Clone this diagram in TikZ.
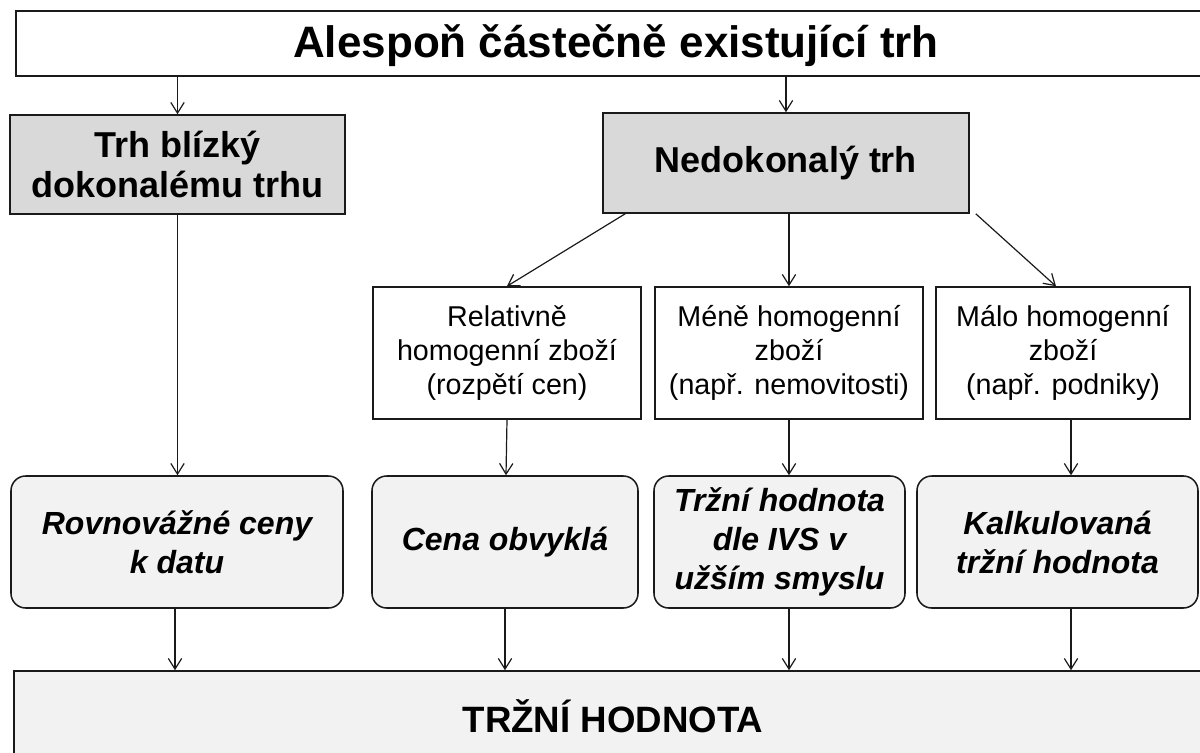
\documentclass[tikz,border=0pt]{standalone}
\usepackage{fontspec}
\setmainfont{Liberation Sans}
\usetikzlibrary{arrows.meta,calc}
\newcommand\ftitle{\fontsize{33}{36}\selectfont\bfseries}
\newcommand\fhead{\fontsize{27}{29.3}\selectfont\bfseries}
\newcommand\fsmall{\fontsize{21.5}{25.5}\selectfont}
\newcommand\fround{\fontsize{24}{29.3}\selectfont\bfseries\itshape}
\newcommand\fbottom{\fontsize{27.5}{30}\selectfont\bfseries}
\definecolor{darkfill}{HTML}{D9D9D9}
\definecolor{lightfill}{HTML}{F2F2F2}
\definecolor{edge}{HTML}{1A1A1A}
\begin{document}
\begin{tikzpicture}[x=0.75pt,y=-0.75pt,
  basebox/.style={draw=edge, line width=1.15pt, inner sep=0pt, align=center},
  whitebox/.style={basebox, fill=white},
  graybox/.style={basebox, fill=darkfill, font=\fhead},
  smallbox/.style={basebox, fill=white, font=\fsmall, minimum height=132*0.75pt},
  roundbox/.style={basebox, fill=lightfill, font=\fround, rounded corners=11pt, minimum height=132*0.75pt},
  arr/.style={draw=edge, line width=0.9pt, -{Straight Barb[length=8pt,width=10pt,line width=0.9pt]}}]
\useasboundingbox (0,0) rectangle (1200,753);
\clip (0,0) rectangle (1200,753);
\fill[white] (0,0) rectangle (1200,753);

\node[whitebox, minimum width=1200*0.75pt, minimum height=65*0.75pt] (top) at (616,43.5) {};
\node[font=\ftitle, inner sep=0pt] (toptext) at (616,46) {Alespoň částečně existující trh};

\node[graybox, minimum width=335*0.75pt, minimum height=99*0.75pt] (trh) at (177.5,164.5) {Trh blízký\\dokonalému trhu};
\node[graybox, minimum width=366*0.75pt, minimum height=100*0.75pt] (nedok) at (786,163) {Nedokonalý trh};

\node[smallbox, minimum width=268*0.75pt] (rel) at (507,353) {Relativně\\homogenní zboží\\(rozpětí cen)};
\node[smallbox, minimum width=268*0.75pt] (mene) at (789,353) {Méně homogenní\\zboží\\(např. nemovitosti)};
\node[smallbox, minimum width=254*0.75pt] (malo) at (1063,353) {Málo homogenní\\zboží\\(např. podniky)};

\node[roundbox, minimum width=332*0.75pt] (rovn) at (177,542) {Rovnovážné ceny\\k datu};
\node[roundbox, minimum width=266*0.75pt] (cena) at (505,542) {Cena obvyklá};
\node[roundbox, minimum width=251*0.75pt] (ivs) at (779.5,542) {Tržní hodnota\\dle IVS v\\užším smyslu};
\node[roundbox, minimum width=281*0.75pt] (kalk) at (1057.5,542) {Kalkulovaná\\tržní hodnota};

\node[basebox, fill=lightfill, font=\fbottom, minimum width=1198*0.75pt, minimum height=91*0.75pt] (bot) at (613,716.5) {TRŽNÍ HODNOTA};

\coordinate (kx) at (1071,0);

\draw[arr] (top.south -| trh.north) -- (trh.north);
\draw[arr] (top.south -| nedok.north) -- (nedok.north);
\draw[arr] (trh.south) -- (trh.south |- rovn.north);
\draw[arr] ($(nedok.south west)+(23,0)$) -- (rel.north);
\draw[arr] (nedok.south -| mene.north) -- (mene.north);
\draw[arr] ($(nedok.south east)+(6,0)$) -- ($(malo.north)+(-7,0)$);
\draw[arr] (rel.south) -- ($(cena.north)+(1,0)$);
\draw[arr] (mene.south) -- (mene.south |- ivs.north);
\draw[arr] (malo.south -| kx) -- (kalk.north -| kx);
\draw[arr] ($(rovn.south)+(-2,0)$) -- ($(rovn.south |- bot.north)+(-2,0)$);
\draw[arr] (cena.south) -- (cena.south |- bot.north);
\draw[arr] (ivs.south -| mene.south) -- (bot.north -| mene.south);
\draw[arr] (kalk.south -| kx) -- (bot.north -| kx);
\end{tikzpicture}
\end{document}
